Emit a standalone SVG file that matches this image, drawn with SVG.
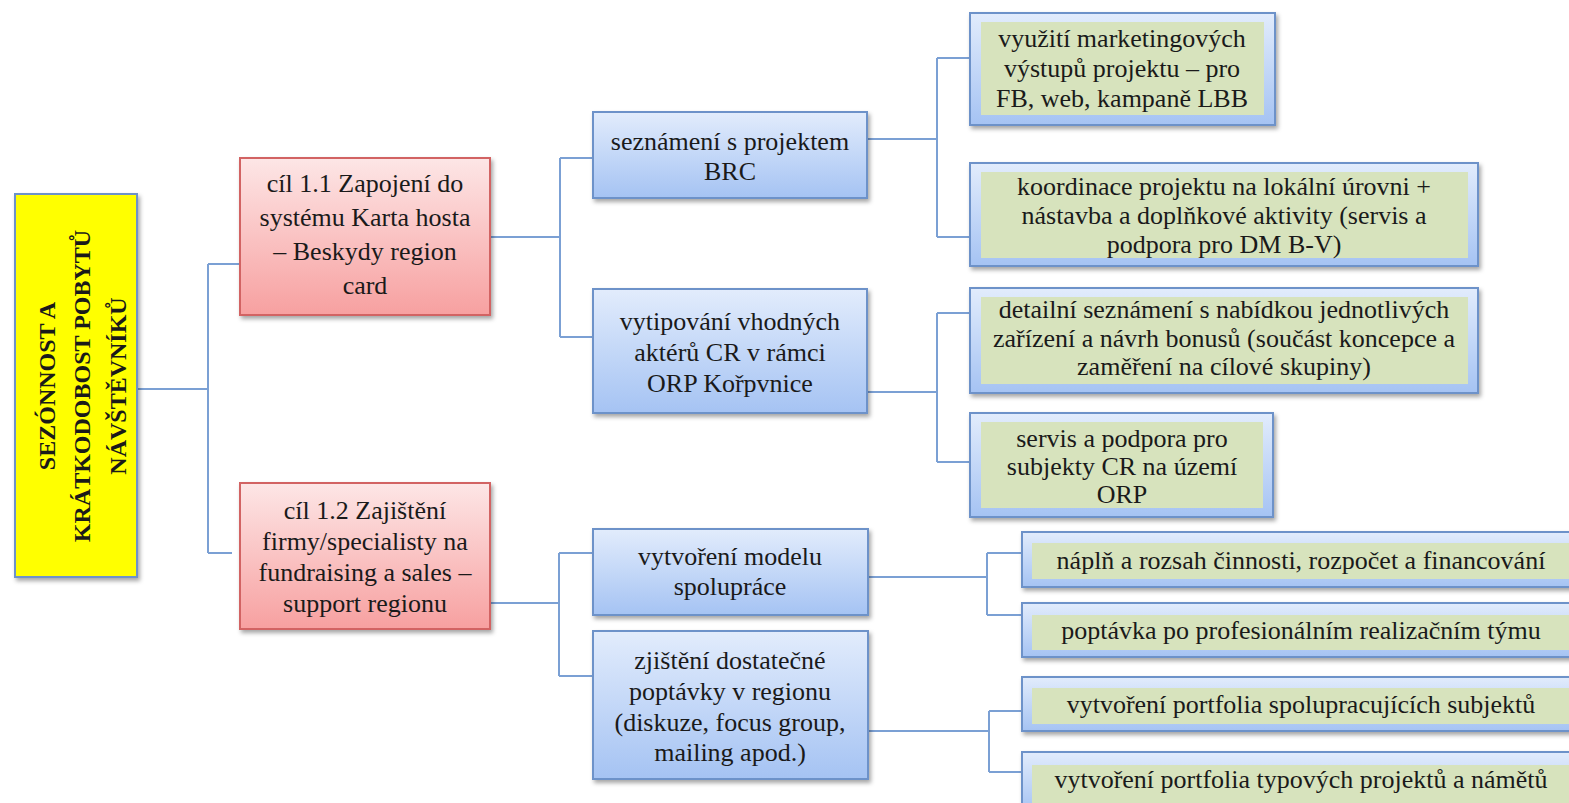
<svg xmlns="http://www.w3.org/2000/svg" width="1569" height="803" viewBox="0 0 1569 803">
<defs>
<linearGradient id="gBlue" x1="0" y1="0" x2="0" y2="1">
<stop offset="0" stop-color="#e2ecfc"/>
<stop offset="1" stop-color="#a5c3f3"/>
</linearGradient>
<linearGradient id="gRed" x1="0" y1="0" x2="0" y2="1">
<stop offset="0" stop-color="#fde6e6"/>
<stop offset="1" stop-color="#f7a0a0"/>
</linearGradient>
<filter id="sh" x="-10%" y="-10%" width="130%" height="140%">
<feDropShadow dx="2" dy="3" stdDeviation="2" flood-color="#000" flood-opacity="0.35"/>
</filter>
<style>
.t{font-family:"Liberation Serif","Times New Roman",serif;font-size:26px;fill:#1a1a1a;text-anchor:middle}
.rt{font-family:"Liberation Serif","Times New Roman",serif;font-size:24px;font-weight:bold;fill:#1a1a1a;text-anchor:middle}
.blue{fill:url(#gBlue);stroke:#6d92c9;stroke-width:2;filter:url(#sh)}
.red{fill:url(#gRed);stroke:#d26464;stroke-width:2;filter:url(#sh)}
.yel{fill:#ffff00;stroke:#6d92c9;stroke-width:2;filter:url(#sh)}
.grn{fill:#d7e3bd}
.c{fill:none;stroke:#7ba0d4;stroke-width:2}
</style>
</defs>
<rect width="1569" height="803" fill="#ffffff"/>

<g id="connectors">
<path class="c" d="M137,389 H208 M208,264 V553 M208,264 H240 M208,553 H232"/>
<path class="c" d="M490,237 H560 M560,158 V337 M560,158 H593 M560,337 H593"/>
<path class="c" d="M867,139 H937 M937,58 V237 M937,58 H970 M937,237 H970"/>
<path class="c" d="M867,392 H937 M937,313 V462 M937,313 H970 M937,462 H970"/>
<path class="c" d="M490,603 H559 M559,553 V676 M559,553 H593 M559,676 H593"/>
<path class="c" d="M868,577 H987 M987,553 V615 M987,553 H1022 M987,615 H1022"/>
<path class="c" d="M868,731 H989 M989,711 V772 M989,711 H1022 M989,772 H1022"/>
</g>

<g id="root">
<rect class="yel" x="15" y="194" width="122" height="383"/>
<text class="rt" transform="translate(76,386) rotate(-90)"><tspan x="0" y="-21">SEZÓNNOST A</tspan><tspan x="0" y="14">KRÁTKODOBOST POBYTŮ</tspan><tspan x="0" y="50">NÁVŠTĚVNÍKŮ</tspan></text>
</g>

<g id="goal11">
<rect class="red" x="240" y="158" width="250" height="157"/>
<text class="t"><tspan x="365" y="192">cíl 1.1 Zapojení do</tspan><tspan x="365" y="226">systému Karta hosta</tspan><tspan x="365" y="260">– Beskydy region</tspan><tspan x="365" y="294">card</tspan></text>
</g>

<g id="goal12">
<rect class="red" x="240" y="483" width="250" height="146"/>
<text class="t"><tspan x="365" y="519">cíl 1.2 Zajištění</tspan><tspan x="365" y="550">firmy/specialisty na</tspan><tspan x="365" y="581">fundraising a sales –</tspan><tspan x="365" y="612">support regionu</tspan></text>
</g>

<g id="task-brc">
<rect class="blue" x="593" y="112" width="274" height="86"/>
<text class="t"><tspan x="730" y="150">seznámení s projektem</tspan><tspan x="730" y="180">BRC</tspan></text>
</g>

<g id="task-aktery">
<rect class="blue" x="593" y="289" width="274" height="124"/>
<text class="t"><tspan x="730" y="330">vytipování vhodných</tspan><tspan x="730" y="361">aktérů CR v rámci</tspan><tspan x="730" y="392">ORP Kořpvnice</tspan></text>
</g>

<g id="task-model">
<rect class="blue" x="593" y="529" width="275" height="86"/>
<text class="t"><tspan x="730" y="565">vytvoření modelu</tspan><tspan x="730" y="595">spolupráce</tspan></text>
</g>

<g id="task-poptavka">
<rect class="blue" x="593" y="631" width="275" height="148"/>
<text class="t"><tspan x="730" y="669">zjištění dostatečné</tspan><tspan x="730" y="700">poptávky v regionu</tspan><tspan x="730" y="731">(diskuze, focus group,</tspan><tspan x="730" y="761">mailing apod.)</tspan></text>
</g>

<g id="act-marketing">
<rect class="blue" x="970" y="13" width="305" height="112"/>
<rect class="grn" x="981" y="22" width="283" height="93"/>
<text class="t"><tspan x="1122" y="47">využití marketingových</tspan><tspan x="1122" y="77">výstupů projektu – pro</tspan><tspan x="1122" y="107">FB, web, kampaně LBB</tspan></text>
</g>

<g id="act-koordinace">
<rect class="blue" x="970" y="163" width="508" height="103"/>
<rect class="grn" x="981" y="172" width="487" height="86"/>
<text class="t"><tspan x="1224" y="195">koordinace projektu na lokální úrovni +</tspan><tspan x="1224" y="224">nástavba a doplňkové aktivity (servis a</tspan><tspan x="1224" y="253">podpora pro DM B-V)</tspan></text>
</g>

<g id="act-detailni">
<rect class="blue" x="970" y="288" width="508" height="105"/>
<rect class="grn" x="981" y="297" width="487" height="87"/>
<text class="t"><tspan x="1224" y="318">detailní seznámení s nabídkou jednotlivých</tspan><tspan x="1224" y="347">zařízení a návrh bonusů (součást koncepce a</tspan><tspan x="1224" y="375">zaměření na cílové skupiny)</tspan></text>
</g>

<g id="act-servis">
<rect class="blue" x="970" y="413" width="303" height="104"/>
<rect class="grn" x="981" y="422" width="282" height="86"/>
<text class="t"><tspan x="1122" y="447">servis a podpora pro</tspan><tspan x="1122" y="475">subjekty CR na území</tspan><tspan x="1122" y="503">ORP</tspan></text>
</g>

<g id="act-napln">
<rect class="blue" x="1022" y="532" width="570" height="55"/>
<rect class="grn" x="1032" y="543" width="560" height="36"/>
<text class="t" x="1301" y="569">náplň a rozsah činnosti, rozpočet a financování</text>
</g>

<g id="act-tym">
<rect class="blue" x="1022" y="603" width="570" height="54"/>
<rect class="grn" x="1032" y="615" width="560" height="35"/>
<text class="t" x="1301" y="639">poptávka po profesionálním realizačním týmu</text>
</g>

<g id="act-portfolio1">
<rect class="blue" x="1022" y="677" width="570" height="54"/>
<rect class="grn" x="1032" y="688" width="560" height="36"/>
<text class="t" x="1301" y="713">vytvoření portfolia spolupracujících subjektů</text>
</g>

<g id="act-portfolio2">
<rect class="blue" x="1022" y="752" width="570" height="60"/>
<rect class="grn" x="1032" y="765" width="560" height="40"/>
<text class="t" x="1301" y="788">vytvoření portfolia typových projektů a námětů</text>
</g>
</svg>
